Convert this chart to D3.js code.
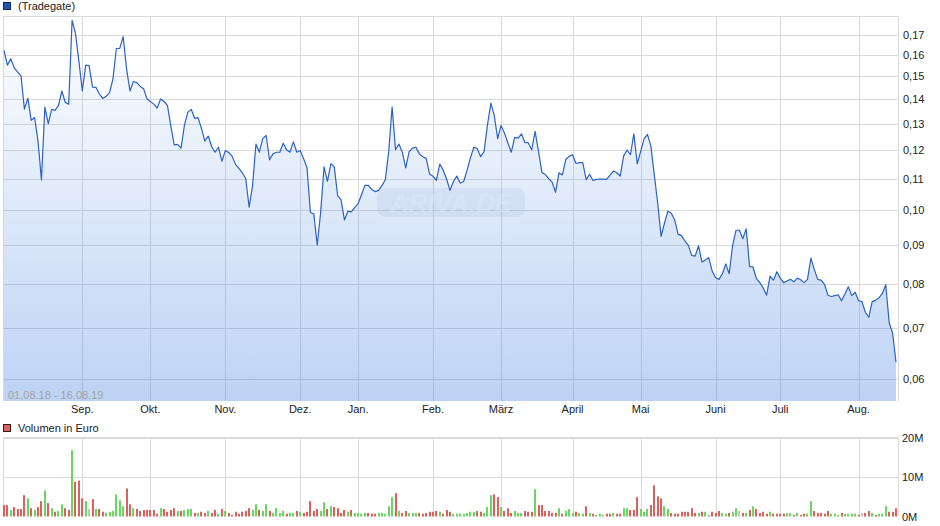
<!DOCTYPE html>
<html>
<head>
<meta charset="utf-8">
<script src="https://cdn.jsdelivr.net/npm/d3@7/dist/d3.min.js"></script>
<style>
  html, body { margin: 0; padding: 0; background: #ffffff; }
  svg { display: block; font-family: "Liberation Sans", Arial, sans-serif; }
</style>
</head>
<body>
<svg id="chart" width="940" height="526"></svg>
<script>
// ---------------- DATA ----------------
const priceSeriesName = "(Tradegate)";
const volumeSeriesName = "Volumen in Euro";
const dateRangeLabel = "01.08.18 - 16.08.19";

// daily closing prices (one per trading day, 01.08.18 - 16.08.19)
const prices = [
  0.1623,0.1552,0.1582,0.1539,0.1519,0.1502,0.1358,0.1404,0.1313,0.1324,
  0.1232,0.1096,0.1367,0.1300,0.1357,0.1353,0.1374,0.1435,0.1386,0.1379,
  0.1777,0.1707,0.1571,0.1435,0.1552,0.1550,0.1452,0.1451,0.1422,0.1403,
  0.1412,0.1428,0.1488,0.1632,0.1633,0.1692,0.1534,0.1435,0.1477,0.1472,
  0.1455,0.1445,0.1401,0.1390,0.1379,0.1363,0.1401,0.1390,0.1374,0.1291,
  0.1219,0.1221,0.1207,0.1294,0.1346,0.1357,0.1321,0.1324,0.1281,0.1233,
  0.1252,0.1212,0.1192,0.1210,0.1160,0.1198,0.1191,0.1178,0.1149,0.1135,
  0.1120,0.1100,0.1009,0.1077,0.1222,0.1192,0.1242,0.1254,0.1165,0.1186,
  0.1192,0.1192,0.1225,0.1201,0.1192,0.1230,0.1192,0.1198,0.1169,0.1137,
  0.0993,0.0989,0.0900,0.0993,0.1140,0.1091,0.1151,0.1141,0.1045,0.1032,
  0.0971,0.0997,0.0995,0.1008,0.1020,0.1048,0.1078,0.1078,0.1065,0.1058,
  0.1062,0.1077,0.1097,0.1195,0.1367,0.1201,0.1222,0.1192,0.1137,0.1194,
  0.1207,0.1210,0.1186,0.1176,0.1170,0.1116,0.1108,0.1095,0.1150,0.1129,
  0.1099,0.1062,0.1091,0.1109,0.1086,0.1091,0.1128,0.1172,0.1210,0.1205,
  0.1176,0.1194,0.1294,0.1383,0.1332,0.1242,0.1293,0.1263,0.1226,0.1192,
  0.1247,0.1244,0.1260,0.1228,0.1226,0.1201,0.1270,0.1195,0.1121,0.1114,
  0.1100,0.1089,0.1056,0.1120,0.1113,0.1166,0.1177,0.1183,0.1152,0.1155,
  0.1155,0.1097,0.1115,0.1094,0.1098,0.1099,0.1099,0.1098,0.1112,0.1126,
  0.1120,0.1109,0.1179,0.1200,0.1183,0.1260,0.1151,0.1195,0.1241,0.1258,
  0.1214,0.1114,0.1022,0.0924,0.0962,0.0997,0.0991,0.0971,0.0930,0.0926,
  0.0911,0.0899,0.0872,0.0870,0.0898,0.0855,0.0860,0.0866,0.0832,0.0815,
  0.0811,0.0825,0.0850,0.0825,0.0898,0.0941,0.0941,0.0917,0.0945,0.0843,
  0.0842,0.0813,0.0803,0.0790,0.0773,0.0819,0.0809,0.0830,0.0814,0.0803,
  0.0807,0.0811,0.0805,0.0814,0.0810,0.0803,0.0811,0.0865,0.0836,0.0811,
  0.0809,0.0799,0.0773,0.0770,0.0772,0.0774,0.0760,0.0776,0.0793,0.0772,
  0.0780,0.0760,0.0758,0.0734,0.0723,0.0758,0.0761,0.0767,0.0777,0.0798,
  0.0711,0.0689,0.0631
];

// daily traded volume in million euro
const volumes = [
  2.9,2.9,1.65,2.4,1.9,1.9,5.4,4.6,2.1,1.65,
  2.4,3.9,6.6,3.4,2.1,1.2,1.4,3.1,2.1,1.65,
  16.8,8.8,9.1,4.6,3.9,1.9,4.4,1.9,1.9,1.2,
  0.9,1.2,1.4,5.6,4.1,2.6,7.1,3.1,2.1,1.9,
  1.4,1.65,1.65,1.65,1.65,0.7,2.1,1.9,1.2,1.65,
  2.1,1.4,1.4,1.65,1.9,1.9,0.9,0.9,1.2,0.9,
  1.4,0.9,1.65,0.7,1.9,1.4,0.9,0.4,1.2,0.7,
  1.2,1.4,2.1,1.65,3.1,1.65,1.4,3.1,1.4,0.9,
  2.1,0.9,1.4,0.7,0.9,0.9,1.4,1.2,0.9,1.2,
  3.9,1.4,1.9,1.4,3.6,1.9,2.6,2.4,2.1,0.9,
  1.65,1.2,1.65,0.9,0.9,0.7,0.9,0.9,0.7,0.7,
  0.9,0.9,0.7,2.6,4.9,5.9,1.4,0.9,1.4,0.9,
  0.9,0.9,0.9,0.7,0.9,1.2,1.2,1.4,1.2,0.7,
  1.65,1.2,0.7,0.7,0.7,0.7,0.9,
  1.2,1.2,1.4,1.2,0.9,2.4,5.4,5.6,4.9,2.4,
  1.4,2.1,0.9,1.4,0.9,0.9,1.4,1.2,1.2,6.9,
  2.9,2.9,1.4,1.4,0.9,0.9,2.1,0.7,1.4,1.9,
  0.9,1.2,0.9,0.7,2.6,0.9,0.7,0.4,0.7,0.4,
  0.7,0.7,0.9,0.7,0.7,2.1,2.1,1.65,1.65,4.9,
  1.9,1.2,1.9,2.9,7.9,5.1,4.6,2.6,1.9,0.9,
  0.7,0.7,1.2,1.2,1.2,2.1,0.9,0.9,1.2,1.2,
  0.4,1.2,0.9,1.4,0.9,0.7,0.9,1.2,2.1,1.4,
  0.9,0.9,1.65,2.6,1.9,0.9,1.2,0.7,1.2,0.7,
  0.7,0.7,0.7,0.9,0.9,0.4,0.9,0.4,0.7,0.7,
  3.9,1.4,0.9,0.9,0.7,1.4,0.7,0.7,0.4,0.9,
  0.7,0.7,0.7,0.7,0.4,0.9,0.9,1.4,0.9,0.4,
  0.7,0.7,2.6,1.2,1.2,2.1
];

// day direction: u = up, d = down, n = unchanged
const directions = (
  "dduddddudu" + "ddududuudd" + "udddundudd" + "uuuuuuddud" + "dddddduddd" +
  "duduuududd" + "uddududddd" + "ddduuduudu" + "uuuduududd" + "ddduududdd" +
  "duduuuuddd" + "uuuuududdu" + "uuddddddud" + "dduuuuu" +
  "uudduuuddu" + "ddduuudddu" + "dddddduduu" + "uduududuuu" + "ddudduuddd" +
  "uuudddduud" + "dddddddudu" + "uddduuduun" + "dududdddud" + "ddduududdu" +
  "uddddduuud" + "uuuudnddud" + "uuuddd"
).split("");

// month axis: label and trading-day index where the month starts
const monthLabels = ["Sep.","Okt.","Nov.","Dez.","Jan.","Feb.","März","April","Mai","Juni","Juli","Aug."];
const monthIndex  = [23, 43, 65, 87, 104, 126, 146, 167, 187, 209, 228, 251];

const priceTicks = [0.06,0.07,0.08,0.09,0.10,0.11,0.12,0.13,0.14,0.15,0.16,0.17];
const volumeTicks = [0, 10, 20];

// ---------------- DRAW ----------------
const svg = d3.select("#chart");
const W = 940;
const P = { left: 3, right: 898, top: 16, bottom: 401 };
const V = { top: 437, bottom: 516.5 };
const gridColor = "#dadada";
const textColor = "#222";

const n = prices.length;
const x = d3.scaleLinear().domain([0, n - 1]).range([4, 896]);
const y = d3.scaleLog().domain([0.0561, 0.1801]).range([P.bottom, P.top]);
const yv = d3.scaleLinear().domain([0, 20]).range([V.bottom, V.top + 0.5]);

const fmtPrice = v => d3.format(".2f")(v).replace(".", ",");

// gradient for the area
const defs = svg.append("defs");
const grad = defs.append("linearGradient")
  .attr("id", "areaGrad").attr("gradientUnits", "userSpaceOnUse")
  .attr("x1", 0).attr("x2", 0).attr("y1", P.top).attr("y2", P.bottom);
grad.append("stop").attr("offset", "0%").attr("stop-color", "#3c7ce0").attr("stop-opacity", 0.0);
grad.append("stop").attr("offset", "100%").attr("stop-color", "#3c7ce0").attr("stop-opacity", 0.34);

// ---- price panel grid
const gPrice = svg.append("g");
gPrice.selectAll("line.hg").data(priceTicks).join("line")
  .attr("x1", P.left).attr("x2", P.right)
  .attr("y1", d => Math.round(y(d)) + 0.5).attr("y2", d => Math.round(y(d)) + 0.5)
  .attr("stroke", gridColor).attr("stroke-width", 1);
gPrice.selectAll("line.vg").data(monthIndex).join("line")
  .attr("x1", d => Math.round(x(d)) + 0.5).attr("x2", d => Math.round(x(d)) + 0.5)
  .attr("y1", P.top).attr("y2", P.bottom)
  .attr("stroke", gridColor).attr("stroke-width", 1);
// border
gPrice.append("path")
  .attr("d", `M${P.left + 0.5},${P.bottom}V${P.top + 0.5}H${P.right + 0.5}V${P.bottom}`)
  .attr("fill", "none").attr("stroke", gridColor).attr("stroke-width", 1);

// watermark
const wm = svg.append("g").attr("opacity", 1);
wm.append("rect").attr("x", 377).attr("y", 188).attr("width", 148).attr("height", 29)
  .attr("rx", 8).attr("fill", "#b9c9e2").attr("opacity", 0.22);
wm.append("text").attr("x", 451).attr("y", 212).attr("text-anchor", "middle")
  .attr("font-size", 26).attr("font-style", "italic").attr("font-weight", "bold")
  .attr("fill", "#ffffff").attr("opacity", 0.45).text("ARIVA.DE");

// area + line
const area = d3.area().x((d, i) => x(i)).y0(P.bottom).y1(d => y(d));
const line = d3.line().x((d, i) => x(i)).y(d => y(d));
svg.append("path").datum(prices).attr("d", area).attr("fill", "url(#areaGrad)");
svg.append("path").datum(prices).attr("d", line)
  .attr("fill", "none").attr("stroke", "#2b62c4").attr("stroke-width", 1.2)
  .attr("stroke-linejoin", "round");

// right price axis labels
svg.selectAll("text.py").data(priceTicks).join("text")
  .attr("x", 903).attr("y", d => y(d) + 4)
  .attr("font-size", 11).attr("fill", textColor).text(fmtPrice);

// month labels
svg.selectAll("text.mx").data(monthIndex).join("text")
  .attr("x", d => x(d)).attr("y", 413).attr("text-anchor", "middle")
  .attr("font-size", 11).attr("fill", textColor).text((d, i) => monthLabels[i]);

// date range label
svg.append("text").attr("x", 8).attr("y", 399).attr("font-size", 11)
  .attr("fill", "#a3a3a3").text(dateRangeLabel);

// legend price
svg.append("rect").attr("x", 3.5).attr("y", 2.5).attr("width", 7).attr("height", 7)
  .attr("fill", "#1d55b8").attr("stroke", "#1a2a44").attr("stroke-width", 1);
svg.append("text").attr("x", 18).attr("y", 10).attr("font-size", 11)
  .attr("fill", textColor).text(priceSeriesName);

// ---- volume panel
const gVol = svg.append("g");
gVol.selectAll("line.vh").data(volumeTicks.filter(d => d > 0)).join("line")
  .attr("x1", P.left).attr("x2", P.right)
  .attr("y1", d => Math.round(yv(d)) + 0.5).attr("y2", d => Math.round(yv(d)) + 0.5)
  .attr("stroke", gridColor);
gVol.selectAll("line.vv").data(monthIndex).join("line")
  .attr("x1", d => Math.round(x(d)) + 0.5).attr("x2", d => Math.round(x(d)) + 0.5)
  .attr("y1", V.top).attr("y2", V.bottom)
  .attr("stroke", gridColor);
gVol.append("path")
  .attr("d", `M${P.left + 0.5},${V.bottom}V${V.top + 0.5}H${P.right + 0.5}V${V.bottom}`)
  .attr("fill", "none").attr("stroke", gridColor);

const dirColor = { u: "#69d65f", d: "#d9625f", n: "#c4c4c4" };
gVol.selectAll("rect.bar").data(volumes).join("rect")
  .attr("x", (d, i) => Math.round(x(i)) - 1)
  .attr("width", 2)
  .attr("y", d => yv(d))
  .attr("height", d => V.bottom - yv(d))
  .attr("fill", (d, i) => {
    let k = directions[i];
    if (!k) k = i > 0 ? (prices[i] > prices[i - 1] ? "u" : prices[i] < prices[i - 1] ? "d" : "n") : "n";
    return dirColor[k];
  });

svg.selectAll("text.vy").data(volumeTicks).join("text")
  .attr("x", 902).attr("y", d => yv(d) + 4)
  .attr("font-size", 11).attr("fill", textColor).text(d => d + "M");

// legend volume
svg.append("rect").attr("x", 3.5).attr("y", 424.5).attr("width", 7).attr("height", 7)
  .attr("fill", "#d9625f").attr("stroke", "#3a1a1a").attr("stroke-width", 1);
svg.append("text").attr("x", 18).attr("y", 432).attr("font-size", 11)
  .attr("fill", textColor).text(volumeSeriesName);
</script>
</body>
</html>
